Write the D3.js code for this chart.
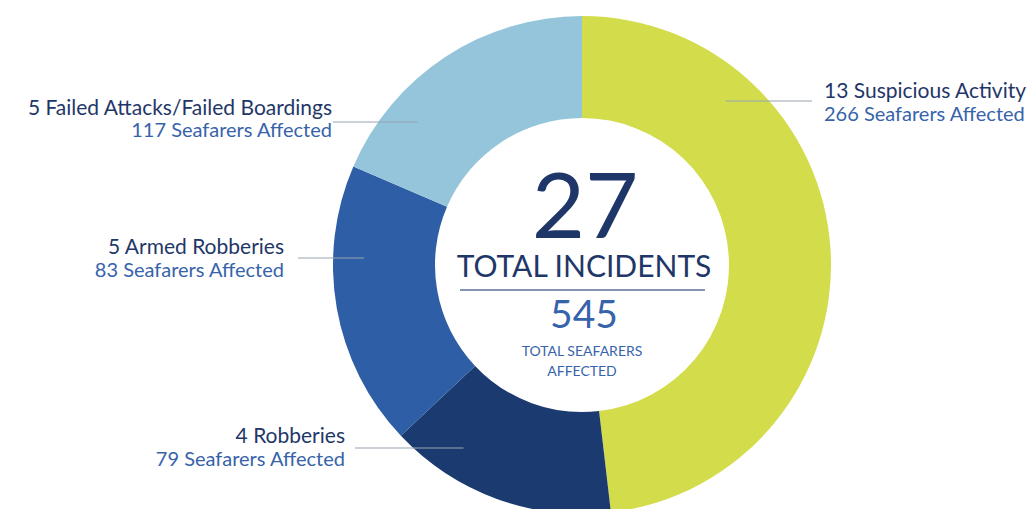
<!DOCTYPE html>
<html>
<head>
<meta charset="utf-8">
<script src="https://cdn.jsdelivr.net/npm/d3@7"></script>
<style>
  body { margin: 0; background: #fff; }
  svg { display: block; font-family: Lato, "Noto Sans", sans-serif; }
</style>
</head>
<body>
<div id="chart"></div>
<script>
// data
const categories = ["Suspicious Activity", "Robberies", "Armed Robberies", "Failed Attacks/Failed Boardings"];
const incidents = [13, 4, 5, 5];
const seafarers = [266, 79, 83, 117];
const colors = ["#d3dc4a", "#1b3b70", "#2e5ea6", "#95c5da"];

// label placement (layout only)
const labelLayout = [
  {side: "right", lineY: 101, lineEnd: 812, textX: 824, y1: 98, y2: 121},
  {side: "left", lineY: 448, lineEnd: 355, textX: 345, y1: 443, y2: 466},
  {side: "left", lineY: 258, lineEnd: 298, textX: 284, y1: 254, y2: 277},
  {side: "left", lineY: 122, lineEnd: 333, textX: 332, y1: 115, y2: 137}
];

const width = 1034, height = 509;
const cx = 582, cy = 265, outerR = 249, innerR = 147, lineR = 218;

const svg = d3.select("#chart")
  .append("svg")
    .attr("width", width)
    .attr("height", height);

const g = svg.append("g")
    .attr("transform", "translate(" + cx + "," + cy + ")");

const data = categories.map((c, i) => ({name: c, count: incidents[i], people: seafarers[i], color: colors[i], layout: labelLayout[i]}));

const pie = d3.pie().sort(null).value(d => d.count);
const arc = d3.arc().innerRadius(innerR).outerRadius(outerR);

g.selectAll("path.slice")
  .data(pie(data))
  .join("path")
    .attr("class", "slice")
    .attr("d", arc)
    .attr("fill", d => d.data.color);

// leader lines + labels
data.forEach(d => {
  const L = d.layout;
  const dy = L.lineY - cy;
  const dx = Math.sqrt(lineR * lineR - dy * dy) * (L.side === "right" ? 1 : -1);
  svg.append("line")
    .attr("x1", cx + dx)
    .attr("x2", L.lineEnd)
    .attr("y1", L.lineY)
    .attr("y2", L.lineY)
    .attr("stroke", "#9aa3b2")
    .attr("stroke-width", 1.2);

  const anchor = L.side === "right" ? "start" : "end";
  svg.append("text")
    .attr("x", L.textX)
    .attr("y", L.y1)
    .attr("text-anchor", anchor)
    .attr("fill", "#1f3768")
    .style("font-size", "21px")
    .text(d.count + " " + d.name);
  svg.append("text")
    .attr("x", L.textX)
    .attr("y", L.y2)
    .attr("text-anchor", anchor)
    .attr("fill", "#3763aa")
    .style("font-size", "20px")
    .text(d.people + " Seafarers Affected");
});

// centre text
const center = svg.append("g").attr("transform", "translate(" + cx + ",0)");
center.append("text")
  .attr("x", 3).attr("y", 238)
  .attr("text-anchor", "middle")
  .attr("fill", "#1f3768")
  .style("font-size", "92px")
  .text(d3.sum(incidents));
center.append("text")
  .attr("x", 2).attr("y", 277)
  .attr("text-anchor", "middle")
  .attr("fill", "#1f3768")
  .style("font-size", "30px")
  .text("TOTAL INCIDENTS");
center.append("line")
  .attr("x1", -122).attr("x2", 123)
  .attr("y1", 290).attr("y2", 290)
  .attr("stroke", "#5a6f96")
  .attr("stroke-width", 1.3);
center.append("text")
  .attr("x", 2).attr("y", 328)
  .attr("text-anchor", "middle")
  .attr("fill", "#3763aa")
  .style("font-size", "39px")
  .text(d3.sum(seafarers));
center.append("text")
  .attr("x", 0).attr("y", 356)
  .attr("text-anchor", "middle")
  .attr("fill", "#3763aa")
  .style("font-size", "14px")
  .text("TOTAL SEAFARERS");
center.append("text")
  .attr("x", 0).attr("y", 376)
  .attr("text-anchor", "middle")
  .attr("fill", "#3763aa")
  .style("font-size", "14px")
  .text("AFFECTED");
</script>
</body>
</html>
